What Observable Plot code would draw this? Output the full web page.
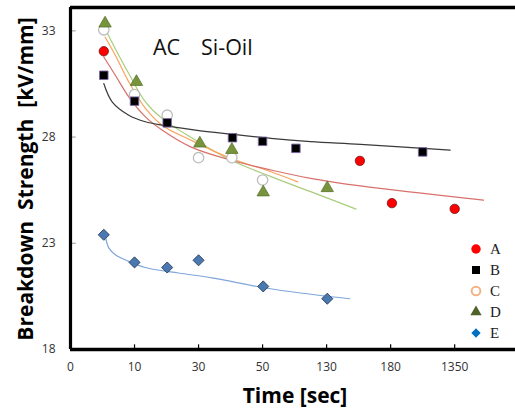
<!DOCTYPE html>
<html><head><meta charset="utf-8">
<script src="https://cdn.jsdelivr.net/npm/d3@7"></script>
<script src="https://cdn.jsdelivr.net/npm/@observablehq/plot@0.6"></script>
<style>body{margin:0;background:#fff}#chart{width:515px;height:413px}</style>
</head><body><div id="chart"></div>
<script>
// x positions are category slots (equal spacing); tick labels below
const xTickPos = [0, 1, 2, 3, 4, 5, 6];
const xTickLabels = ["0", "10", "30", "50", "130", "180", "1350"];
const yTicks = [18, 23, 28, 33];
const seriesNames = ["A", "B", "C", "D", "E"];

// measured points
const aX = [0.52, 4.52, 5.02, 6.0];
const aY = [32.04, 26.88, 24.89, 24.62];
const bX = [0.52, 1.0, 1.51, 2.53, 3.0, 3.52, 5.5];
const bY = [30.91, 29.69, 28.67, 27.97, 27.80, 27.47, 27.30];
const cX = [0.52, 1.0, 1.51, 2.0, 2.52, 3.0];
const cY = [33.05, 30.0, 29.03, 27.03, 27.03, 25.98];
const dX = [0.54, 1.03, 2.02, 2.52, 3.01, 4.01];
const dY = [33.35, 30.6, 27.7, 27.4, 25.4, 25.6];
const eX = [0.52, 1.0, 1.51, 2.0, 3.01, 4.01];
const eY = [23.4, 22.1, 21.86, 22.2, 20.97, 20.39];

// trend lines
const tAX = [0.52, 0.70, 0.91, 1.17, 1.43, 1.875, 2.5, 3.13, 3.75, 4.53, 6.45];
const tAY = [31.77, 30.91, 29.89, 28.95, 28.33, 27.54, 26.92, 26.45, 26.06, 25.70, 25.03];
const tBX = [0.52, 0.65, 0.91, 1.17, 1.43, 1.95, 2.5, 3.13, 3.75, 4.53, 5.93];
const tBY = [30.52, 29.66, 29.03, 28.72, 28.56, 28.33, 28.14, 27.94, 27.79, 27.66, 27.39];
const tCX = [0.54, 0.70, 0.91, 1.17, 1.43, 1.875, 2.5, 3.13, 3.55];
const tCY = [32.71, 31.85, 30.60, 29.35, 28.56, 27.86, 27.0, 26.37, 25.89];
const tDX = [0.54, 0.70, 0.91, 1.17, 1.43, 1.95, 2.5, 3.13, 3.75, 4.46];
const tDY = [33.10, 32.16, 30.99, 29.66, 28.88, 27.86, 26.92, 26.14, 25.43, 24.61];
const tEX = [0.55, 0.60, 0.70, 0.91, 1.17, 1.69, 2.21, 3.0, 3.59, 4.36];
const tEY = [23.24, 22.77, 22.46, 22.15, 21.86, 21.60, 21.37, 20.92, 20.66, 20.39];

const pts = (xs, ys) => xs.map((x, i) => ({x, y: ys[i]}));

const lineOpts = (stroke) => ({x: "x", y: "y", stroke, strokeWidth: 1.2, curve: "catmull-rom"});

const plot = Plot.plot({
  width: 515, height: 413,
  marginLeft: 70, marginRight: 0, marginTop: 7, marginBottom: 64,
  x: {domain: [0, 6.95]},
  y: {domain: [18, 34.1]},
  style: {fontFamily: "'Open Sans', sans-serif", fontSize: "12px", color: "#333", background: "white"},
  marks: [
    Plot.line(pts(tDX, tDY), lineOpts("#a9cd7c")),
    Plot.line(pts(tCX, tCY), lineOpts("#f9a45c")),
    Plot.line(pts(tAX, tAY), lineOpts("#d8706c")),
    Plot.line(pts(tBX, tBY), lineOpts("#3a3a3a")),
    Plot.line(pts(tEX, tEY), lineOpts("#7ea6da")),
    Plot.dot(pts(cX, cY), {x: "x", y: "y", r: 5.2, fill: "white", stroke: "#bdbdbd", strokeWidth: 1.3}),
    Plot.dot(pts(aX, aY), {x: "x", y: "y", r: 4.7, fill: "#ff0000", stroke: "#6b1a1a", strokeWidth: 0.8}),
    Plot.dot(pts(bX, bY), {x: "x", y: "y", r: 4.8, symbol: "square", fill: "#000", stroke: "#7d68a4", strokeWidth: 0.9}),
    Plot.dot(pts(dX, dY), {x: "x", y: "y", r: 4.6, symbol: "triangle", fill: "#77933c", stroke: "#5d7530", strokeWidth: 0.8}),
    Plot.dot(pts(eX, eY), {x: "x", y: "y", r: 5.0, symbol: "diamond2", fill: "#4a78b0", stroke: "#2b3f5c", strokeWidth: 0.9}),
    // inner tick marks
    Plot.ruleX(xTickPos.slice(1), {y1: 18, y2: 18.22, stroke: "#000", strokeWidth: 1.2}),
    Plot.ruleY(yTicks.slice(1), {x1: 0.03, x2: 0.09, stroke: "#999", strokeWidth: 1}),
    // frame lines
    Plot.ruleX([0], {stroke: "#000", strokeWidth: 3.2}),
    Plot.ruleY([18], {stroke: "#000", strokeWidth: 3.5}),
    Plot.ruleY([34.1], {stroke: "#000", strokeWidth: 3.5}),
    Plot.axisX({ticks: xTickPos, tickFormat: (d) => xTickLabels[d], tickSize: 0, tickPadding: 13, label: null, fill: "#333"}),
    Plot.axisY({ticks: yTicks, tickSize: 0, tickPadding: 15, label: null, fill: "#333"})
  ]
});

document.getElementById("chart").appendChild(plot);

const svg = d3.select(plot);

// annotation
svg.append("text").attr("x", 153).attr("y", 55).attr("text-anchor", "start")
  .attr("font-family", "'Open Sans', sans-serif")
  .attr("font-size", 21.5).attr("fill", "#111").text("AC");
svg.append("text").attr("x", 201).attr("y", 55).attr("text-anchor", "start")
  .attr("font-family", "'Open Sans', sans-serif")
  .attr("font-size", 21.5).attr("fill", "#111").text("Si-Oil");

// axis titles
svg.append("text").attr("x", 295).attr("y", 403).attr("text-anchor", "middle")
  .attr("font-family", "'Open Sans', sans-serif").attr("font-weight", "bold").attr("font-size", 21)
  .attr("fill", "#000").text("Time [sec]");
svg.append("text").attr("transform", "translate(33,179) rotate(-90)").attr("text-anchor", "middle")
  .attr("font-family", "'Open Sans', sans-serif").attr("font-weight", "bold").attr("font-size", 21)
  .attr("fill", "#000").style("white-space", "pre").text("Breakdown  Strength  [kV/mm]");

// legend
const legendSyms = [
  {sym: d3.symbolCircle, size: 70, fill: "#ff0000", stroke: "none"},
  {sym: d3.symbolSquare, size: 64, fill: "#000", stroke: "none"},
  {sym: d3.symbolCircle, size: 60, fill: "white", stroke: "#f4b183"},
  {sym: d3.symbolTriangle, size: 55, fill: "#4f6228", stroke: "none"},
  {sym: d3.symbolDiamond2, size: 55, fill: "#0070c0", stroke: "none"}
];
const lg = svg.append("g");
seriesNames.forEach((name, i) => {
  const cy = 249 + i * 21;
  const s = legendSyms[i];
  lg.append("path").attr("transform", `translate(476,${cy})`).attr("d", d3.symbol(s.sym, s.size)())
    .attr("fill", s.fill).attr("stroke", s.stroke).attr("stroke-width", 2);
  lg.append("text").attr("x", 490).attr("y", cy + 5).attr("text-anchor", "start")
    .attr("font-family", "'Liberation Serif', serif")
    .attr("font-size", 15).attr("fill", "#222").text(name);
});
</script>
</body></html>
